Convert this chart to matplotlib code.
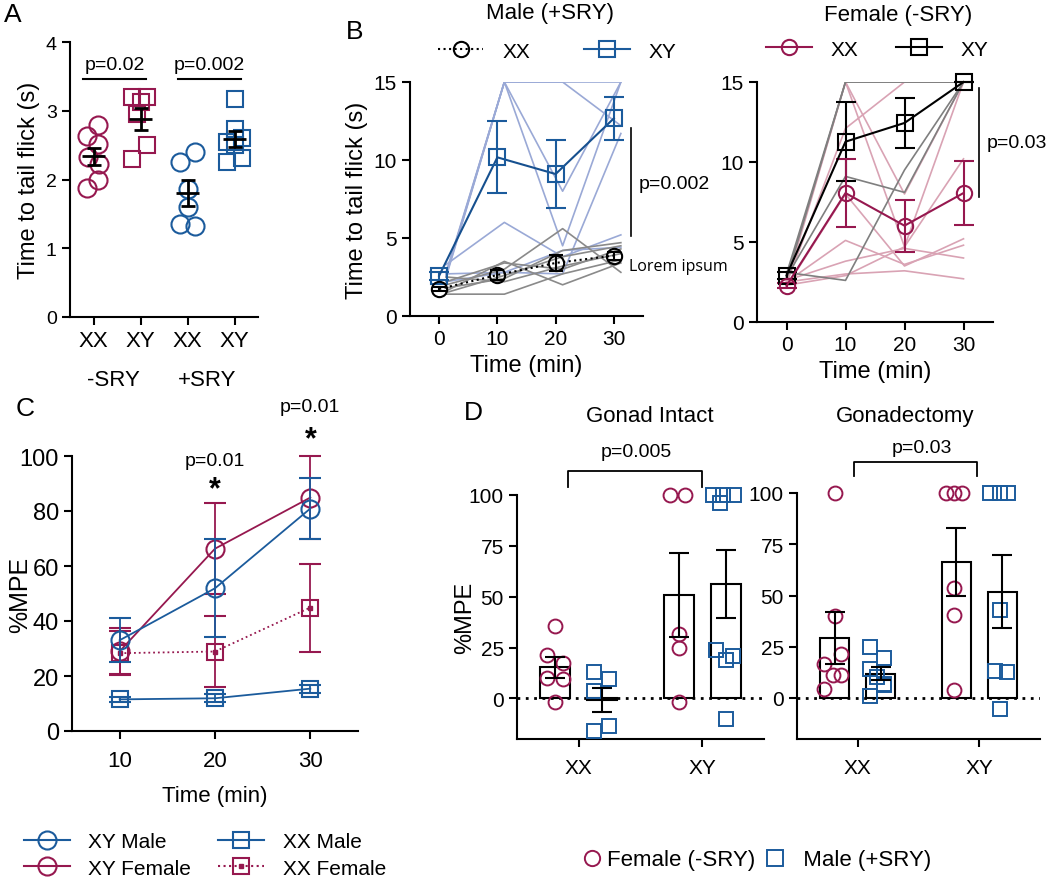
import numpy as np
import matplotlib.pyplot as plt
from matplotlib.lines import Line2D

plt.rcParams['font.family'] = ['Liberation Sans', 'DejaVu Sans']

W, H = 1050, 887
CRIM = '#96184f'
BLUE = '#1b5b9c'
LBLUE = '#9aa9d6'
PINK = '#d9a3b4'
GREY = '#8a8a8a'

# ---------------- data ----------------
# Panel A: time to tail flick (s)
a_labels = ['XX', 'XY', 'XX', 'XY']
a_xx_f = [2.79, 2.64, 2.51, 2.33, 2.23, 1.99, 1.87]
a_xy_f = [3.20, 3.20, 3.13, 2.96, 2.50, 2.30]
a_xx_m = [2.40, 2.26, 1.86, 1.60, 1.35, 1.33]
a_xy_m = [3.17, 2.73, 2.60, 2.55, 2.50, 2.32, 2.25]

# Panel B: time course
b_time = [0, 10, 20, 30]
b_male_xx_mean = [1.73, 2.63, 3.40, 3.87]
b_male_xx_sem = [0.15, 0.30, 0.50, 0.25]
b_male_xy_mean = [2.58, 10.17, 9.10, 12.67]
b_male_xy_sem = [0.25, 2.30, 2.17, 1.38]
b_male_xy_ind = [[2.7, 15.0, 15.0, 15.0],
                 [2.6, 15.0, 15.0, 12.2],
                 [2.5, 15.0, 8.0, 15.0],
                 [2.8, 15.0, 4.5, 15.0],
                 [3.3, 6.0, 3.8, 5.2],
                 [2.7, 2.8, 2.7, 11.7],
                 [2.2, 2.8, 4.2, 4.4]]
b_male_xx_ind = [[1.4, 1.4, 2.7, 3.6],
                 [1.6, 3.5, 2.0, 3.4],
                 [2.0, 3.0, 5.6, 2.8],
                 [1.8, 2.4, 4.2, 4.7],
                 [2.2, 3.4, 3.0, 4.3],
                 [1.5, 2.6, 3.8, 4.5],
                 [2.5, 2.2, 3.2, 4.0]]
b_fem_xx_mean = [2.27, 8.06, 6.02, 8.06]
b_fem_xx_sem = [0.15, 2.10, 1.62, 2.00]
b_fem_xy_mean = [2.90, 11.27, 12.44, 15.0]
b_fem_xy_sem = [0.20, 2.48, 1.54, 0.0]
b_fem_xx_ind = [[2.4, 12.1, 15.0, 15.0],
                [2.6, 15.0, 4.7, 10.2],
                [2.2, 8.0, 3.5, 5.2],
                [2.5, 5.1, 3.6, 4.8],
                [2.6, 3.8, 4.6, 4.0],
                [2.5, 3.0, 3.2, 2.7],
                [2.3, 2.9, 4.7, 15.0],
                [2.4, 15.0, 8.0, 15.0]]
b_fem_xy_ind = [[3.0, 15.0, 15.0, 15.0],
                [2.8, 9.1, 8.1, 15.0],
                [3.1, 2.6, 9.5, 15.0],
                [2.7, 15.0, 15.0, 15.0]]

# Panel C: %MPE
c_time = [10, 20, 30]
c_xy_male = [33.0, 51.9, 80.9]
c_xy_male_sem = [8.0, 17.8, 11.2]
c_xy_fem = [29.0, 66.3, 84.9]
c_xy_fem_sem = [8.3, 16.5, 15.0]
c_xx_male = [11.5, 11.9, 15.4]
c_xx_male_sem = [0.8, 1.5, 1.5]
c_xx_fem = [28.3, 28.9, 44.9]
c_xx_fem_sem = [8.0, 13.0, 16.0]

# Panel D: %MPE per animal
d_labels = ['XX', 'XY']
d_int_xx_f = [35.7, 21.3, 17.2, 9.8, 9.5, -1.7]
d_int_xx_m = [12.8, 9.5, 3.7, -13.5, -15.9]
d_int_xy_f = [100, 100, 31.6, 24.6, -1.7]
d_int_xy_m = [100, 100, 100, 96, 24, 21, 19, -10]
d_gdx_xx_f = [100, 40.2, 21.6, 16.7, 11.0, 11.0, 4.5]
d_gdx_xx_m = [24.8, 19.5, 14.3, 10.2, 6.5, 1.0, 7.0]
d_gdx_xy_f = [100, 100, 100, 53.6, 40.7, 4.0]
d_gdx_xy_m = [100, 100, 100, 42.7, 13.4, 12.7, -5.2]

# horizontal scatter offsets (layout only)
a_jit = [[0.10, -0.13, 0.10, -0.12, 0.12, 0.10, -0.13],
         [-0.18, 0.14, 0.0, -0.07, 0.14, -0.18],
         [0.17, -0.15, 0.0, 0.0, -0.15, 0.17],
         [0.0, 0.0, 0.16, -0.16, 0.0, 0.16, -0.16]]
d_int_jit = [[0, -0.065, 0.06, -0.065, 0.06, 0],
             [-0.07, 0.055, -0.07, 0.055, -0.07],
             [-0.075, 0.05, 0, 0, 0],
             [-0.1, -0.02, 0.07, -0.05, -0.08, 0.06, 0, 0]]
d_gdx_jit = [[0, 0, 0.05, -0.085, -0.015, 0.05, -0.085],
             [-0.09, 0.03, -0.09, -0.03, 0.03, -0.09, 0.03],
             [-0.08, -0.015, 0.05, -0.02, -0.02, -0.02],
             [-0.1, -0.02, 0.05, -0.02, -0.06, 0.04, -0.02]]

fig = plt.figure(figsize=(W / 100, H / 100), dpi=100)


def px_axes(l, t, r, b):
    ax = fig.add_axes([l / W, 1 - b / H, (r - l) / W, (b - t) / H])
    ax.spines[['top', 'right']].set_visible(False)
    for s in ['left', 'bottom']:
        ax.spines[s].set_linewidth(1.5)
    ax.tick_params(width=1.5, length=6)
    return ax


def ftext(x, y, s, **kw):
    kw.setdefault('ha', 'center')
    kw.setdefault('va', 'center')
    fig.text(x / W, 1 - y / H, s, **kw)


def sem(v):
    v = np.asarray(v, float)
    return v.std(ddof=1) / np.sqrt(len(v))


# ---------------- Panel A ----------------
axA = px_axes(70, 43, 258, 318)
groups = [(a_xx_f, 'o', CRIM, 13), (a_xy_f, 's', CRIM, 12),
          (a_xx_m, 'o', BLUE, 13), (a_xy_m, 's', BLUE, 12)]
for i, (vals, mk, col, ms) in enumerate(groups):
    x = i + 1
    v = np.asarray(vals)
    axA.plot(x + np.asarray(a_jit[i]), v, ls='none', marker=mk, ms=ms,
             mfc='none', mec=col, mew=1.5, zorder=2)
    m = v.mean()
    axA.hlines(m, x - 0.25, x + 0.25, color='k', lw=2, zorder=3)
    axA.errorbar(x, m, yerr=sem(v), color='k', capsize=5, lw=2,
                 capthick=2, zorder=3)
axA.set_xlim(0.5, 4.5)
axA.set_ylim(0, 4)
axA.set_yticks([0, 1, 2, 3, 4])
axA.set_xticks([1, 2, 3, 4])
axA.set_xticklabels(a_labels, fontsize=16)
axA.tick_params(axis='y', labelsize=14)
axA.set_ylabel('Time to tail flick (s)', fontsize=17)
axA.plot([0.78, 2.12], [3.46, 3.46], color='k', lw=1.5)
axA.plot([2.8, 4.14], [3.46, 3.46], color='k', lw=1.5)
axA.text(1.45, 3.55, 'p=0.02', ha='center', va='bottom', fontsize=14)
axA.text(3.47, 3.55, 'p=0.002', ha='center', va='bottom', fontsize=14)
ftext(113, 380, '-SRY', fontsize=16)
ftext(207, 380, '+SRY', fontsize=16)
ftext(13, 15, 'A', fontsize=19)

# ---------------- Panel B ----------------
def panel_b(ax, ind_a, col_a, ind_b, col_b, off):
    t = np.asarray(b_time) + off
    for row in ind_a:
        ax.plot(t, row, color=col_a, lw=1.2, zorder=1)
    for row in ind_b:
        ax.plot(t, row, color=col_b, lw=1.2, zorder=1)
    ax.set_xlim(-5, 35)
    ax.set_ylim(0, 15)
    ax.set_xticks([0, 10, 20, 30])
    ax.set_yticks([0, 5, 10, 15])
    ax.tick_params(labelsize=15)
    ax.set_xlabel('Time (min)', fontsize=17)


axB1 = px_axes(410, 83, 643, 317)
panel_b(axB1, b_male_xy_ind, LBLUE, b_male_xx_ind, GREY, 1.2)
axB1.errorbar(b_time, b_male_xy_mean, yerr=b_male_xy_sem, color='#16508f',
              ecolor=BLUE, marker='s', ms=11, mfc='none', mec=BLUE, mew=1.5,
              capsize=7, lw=1.5, zorder=3, clip_on=False)
axB1.errorbar(b_time, b_male_xx_mean, yerr=b_male_xx_sem, color='k', ls=':',
              marker='o', ms=11, mfc='none', mew=1.5, capsize=5, lw=1.5,
              zorder=3, clip_on=False)
axB1.set_ylabel('Time to tail flick (s)', fontsize=17)
axB1.plot([32.9, 32.9], [5.1, 12.05], color='k', lw=1.2, clip_on=False)
axB1.text(34.2, 8.5, 'p=0.002', va='center', fontsize=14)
axB1.text(32.6, 3.2, 'Lorem ipsum', va='center', fontsize=11.5,
          family=['Open Sans', 'DejaVu Sans'])
hB1 = [Line2D([], [], color='k', ls=':', marker='o', ms=11, mfc='none', mew=1.5),
       Line2D([], [], color=BLUE, marker='s', ms=11, mfc='none', mew=1.5)]
axB1.legend(hB1, ['XX', 'XY'], ncol=2, frameon=False, loc='center',
            bbox_to_anchor=(557 / W, 1 - 52 / H), bbox_transform=fig.transFigure,
            fontsize=15, columnspacing=2.6, handlelength=2.2, handletextpad=0.9)

axB2 = px_axes(757, 83, 993, 323)
panel_b(axB2, b_fem_xx_ind, PINK, b_fem_xy_ind, '#7f7f7f', 0)
axB2.errorbar(b_time, b_fem_xy_mean, yerr=b_fem_xy_sem, color='k',
              marker='s', ms=11, mfc='none', mew=1.5, capsize=7, lw=1.5,
              zorder=3, clip_on=False)
axB2.errorbar(b_time, b_fem_xx_mean, yerr=b_fem_xx_sem, color=CRIM,
              marker='o', ms=11, mfc='none', mew=1.5, capsize=7, lw=1.5,
              zorder=3, clip_on=False)
axB2.plot([32.7, 32.7], [7.8, 14.6], color='k', lw=1.2, clip_on=False)
axB2.text(34.0, 11.25, 'p=0.03', va='center', fontsize=14)
hB2 = [Line2D([], [], color=CRIM, marker='o', ms=11, mfc='none', mew=1.5),
       Line2D([], [], color='k', marker='s', ms=11, mfc='none', mew=1.5)]
axB2.legend(hB2, ['XX', 'XY'], ncol=2, frameon=False, loc='center',
            bbox_to_anchor=(877 / W, 1 - 50 / H), bbox_transform=fig.transFigure,
            fontsize=15, columnspacing=1.8, handlelength=2.2, handletextpad=0.9)

ftext(355, 32, 'B', fontsize=19)
ftext(550, 14, 'Male (+SRY)', fontsize=16)
ftext(898, 15, 'Female (-SRY)', fontsize=16)

# ---------------- Panel C ----------------
axC = px_axes(72, 457, 358, 732)
axC.errorbar(c_time, c_xx_male, yerr=c_xx_male_sem, color=BLUE, marker='s',
             ms=12, mfc='none', mew=1.5, capsize=8, lw=1.3, zorder=3)
axC.errorbar(c_time, c_xx_fem, yerr=c_xx_fem_sem, color=CRIM, ls=':',
             marker='s', ms=12, mfc='none', mew=1.5, capsize=8, lw=1.3, zorder=3)
axC.plot(c_time, c_xx_fem, ls='none', marker='s', ms=3, color=CRIM, zorder=3)
axC.errorbar(c_time, c_xy_fem, yerr=c_xy_fem_sem, color=CRIM, marker='o',
             ms=13, mfc='none', mew=1.5, capsize=8, lw=1.3, zorder=4,
             clip_on=False)
axC.errorbar(c_time, c_xy_male, yerr=c_xy_male_sem, color=BLUE, marker='o',
             ms=13, mfc='none', mew=1.5, capsize=8, lw=1.3, zorder=5)
axC.set_xlim(5, 35)
axC.set_ylim(0, 100)
axC.set_xticks(c_time)
axC.set_yticks([0, 20, 40, 60, 80, 100])
axC.tick_params(axis='y', labelsize=17)
axC.tick_params(axis='x', labelsize=16, pad=8)
axC.set_xlabel('Time (min)', fontsize=16, labelpad=10)
axC.set_ylabel('%MPE', fontsize=18)
axC.yaxis.set_label_coords(-0.14, 0.5)
axC.text(20, 88, '*', ha='center', va='center', fontsize=22, weight='bold',
         clip_on=False)
axC.text(30, 106, '*', ha='center', va='center', fontsize=22, weight='bold',
         clip_on=False)
axC.text(20, 98.5, 'p=0.01', ha='center', va='center', fontsize=14, clip_on=False)
axC.text(30, 118, 'p=0.01', ha='center', va='center', fontsize=14, clip_on=False)
ftext(25, 409, 'C', fontsize=19)

hC = [Line2D([], [], color=BLUE, marker='o', ms=13, mfc='none', mew=1.5),
      Line2D([], [], color=CRIM, marker='o', ms=13, mfc='none', mew=1.5),
      Line2D([], [], color=BLUE, marker='s', ms=12, mfc='none', mew=1.5),
      (Line2D([], [], color=CRIM, ls=':', marker='s', ms=12, mfc='none', mew=1.5),
       Line2D([], [], ls='none', marker='s', ms=3, color=CRIM))]
fig.legend(hC, ['XY Male', 'XY Female', 'XX Male', 'XX Female'], ncol=2,
           frameon=False, loc='center', bbox_to_anchor=(205 / W, 1 - 856 / H),
           fontsize=15, columnspacing=1.3, handlelength=2.2, handletextpad=0.9,
           labelspacing=0.35)

# ---------------- Panel D ----------------
def panel_d(ax, sets, jits):
    cols = [CRIM, BLUE, CRIM, BLUE]
    mks = ['o', 's', 'o', 's']
    xs = [-0.19, 0.19, 1 - 0.19, 1 + 0.19]
    ax.axhline(0, color='k', ls=(0, (1, 2)), lw=2, zorder=2)
    for vals, jit, col, mk, x in zip(sets, jits, cols, mks, xs):
        v = np.asarray(vals, float)
        m = v.mean()
        ax.bar(x, m, width=0.24, color='white', edgecolor='k', lw=1.5, zorder=1)
        ax.plot(x + np.asarray(jit), v, ls='none', marker=mk, ms=10,
                mfc='none', mec=col, mew=1.4, zorder=3, clip_on=False)
        ax.errorbar(x, m, yerr=sem(v), color='k', capsize=7, lw=1.5,
                    capthick=1.5, zorder=4)
    ax.set_xlim(-0.5, 1.5)
    ax.set_ylim(-20, 100)
    ax.set_xticks([0, 1])
    ax.set_xticklabels(d_labels, fontsize=15)
    ax.set_yticks([0, 25, 50, 75, 100])
    ax.tick_params(axis='y', labelsize=15)
    ax.tick_params(axis='x', pad=8)


axD1 = px_axes(517, 496, 764, 740)
panel_d(axD1, [d_int_xx_f, d_int_xx_m, d_int_xy_f, d_int_xy_m], d_int_jit)
axD1.set_ylabel('%MPE', fontsize=17)
axD1.yaxis.set_label_coords(-0.165, 0.5)
axD1.plot([-0.09, -0.09, 1.0, 1.0], [103.8, 112, 112, 103.8], color='k',
          lw=1.3, clip_on=False)
axD1.text(0.47, 121.6, 'p=0.005', ha='center', va='center', fontsize=14)

axD2 = px_axes(797, 494, 1040, 740)
panel_d(axD2, [d_gdx_xx_f, d_gdx_xx_m, d_gdx_xy_f, d_gdx_xy_m], d_gdx_jit)
axD2.plot([-0.03, -0.03, 0.98, 0.98], [108.4, 115.2, 115.2, 108.4], color='k',
          lw=1.3, clip_on=False)
axD2.text(0.53, 122.4, 'p=0.03', ha='center', va='center', fontsize=14)

ftext(473, 413, 'D', fontsize=19)
ftext(650, 417, 'Gonad Intact', fontsize=16)
ftext(905, 417, 'Gonadectomy', fontsize=16)

hD = [Line2D([], [], ls='none', marker='o', ms=11, mfc='none', mec=CRIM, mew=1.4),
      Line2D([], [], ls='none', marker='s', ms=11, mfc='none', mec=BLUE, mew=1.4)]
fig.legend(hD, ['Female (-SRY)', '  Male (+SRY)'], ncol=2, frameon=False,
           loc='center', bbox_to_anchor=(757 / W, 1 - 861 / H), fontsize=16,
           handlelength=0.8, handletextpad=0.3, columnspacing=0.5)

fig.savefig('out.png', dpi=100)
